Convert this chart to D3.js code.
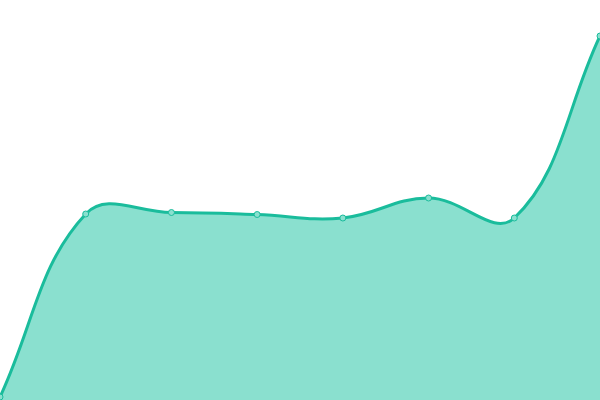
<!DOCTYPE html>
<html>
<head>
<meta charset="utf-8">
<script src="https://cdn.jsdelivr.net/npm/d3@7"></script>
<style>
  body { margin: 0; background: #fff; }
  svg { display: block; }
</style>
</head>
<body>
<script>
var width = 600;
var height = 400;

// one value per step
var steps = [0, 1, 2, 3, 4, 5, 6, 7];
var values = [3, 186, 187.5, 185.5, 182, 202, 182, 364];

var lineColor = '#1abc9c';
var fillColor = '#8ae0cf';
var tension = 0.4;

// tension spline, control points weighted by distance to neighbours
// and kept inside the drawing area
function SplineCurve(context) { this._context = context; }
SplineCurve.prototype = {
  areaStart: function() { this._line = 0; },
  areaEnd: function() { this._line = NaN; },
  lineStart: function() { this._x = []; this._y = []; },
  point: function(x, y) { this._x.push(+x); this._y.push(+y); },
  lineEnd: function() {
    var xs = this._x, ys = this._y, n = xs.length, c = this._context;
    if (n) {
      this._line ? c.lineTo(xs[0], ys[0]) : c.moveTo(xs[0], ys[0]);
      var inX = [], inY = [], outX = [], outY = [];
      for (var i = 0; i < n; i++) {
        var p = i > 0 ? i - 1 : i, q = i < n - 1 ? i + 1 : i;
        var d01 = Math.hypot(xs[i] - xs[p], ys[i] - ys[p]);
        var d12 = Math.hypot(xs[q] - xs[i], ys[q] - ys[i]);
        var s01 = d01 / (d01 + d12) || 0, s12 = d12 / (d01 + d12) || 0;
        var fa = tension * s01, fb = tension * s12;
        var cl = function(v, lo, hi) { return Math.max(lo, Math.min(hi, v)); };
        inX[i] = cl(xs[i] - fa * (xs[q] - xs[p]), 0, width);
        inY[i] = cl(ys[i] - fa * (ys[q] - ys[p]), 0, height);
        outX[i] = cl(xs[i] + fb * (xs[q] - xs[p]), 0, width);
        outY[i] = cl(ys[i] + fb * (ys[q] - ys[p]), 0, height);
      }
      for (var j = 1; j < n; j++) {
        c.bezierCurveTo(outX[j - 1], outY[j - 1], inX[j], inY[j], xs[j], ys[j]);
      }
    }
    if (this._line || (this._line !== 0 && n === 1)) c.closePath();
    this._line = 1 - this._line;
  }
};
var smooth = function(context) { return new SplineCurve(context); };

var x = d3.scaleLinear()
  .domain([0, steps.length - 1])
  .range([0, width]);

var y = d3.scaleLinear()
  .domain([0, 400])
  .range([height, 0]);

var svg = d3.select('body')
  .append('svg')
    .attr('width', width)
    .attr('height', height);

var area = d3.area()
  .x(function(d, i) { return x(steps[i]); })
  .y0(height)
  .y1(function(d) { return y(d); })
  .curve(smooth);

var line = d3.line()
  .x(function(d, i) { return x(steps[i]); })
  .y(function(d) { return y(d); })
  .curve(smooth);

svg.append('path')
  .datum(values)
  .attr('d', area)
  .attr('fill', fillColor);

svg.append('path')
  .datum(values)
  .attr('d', line)
  .attr('fill', 'none')
  .attr('stroke', lineColor)
  .attr('stroke-width', 3);

svg.selectAll('circle')
  .data(values)
  .enter()
  .append('circle')
    .attr('cx', function(d, i) { return x(steps[i]); })
    .attr('cy', function(d) { return y(d); })
    .attr('r', 3)
    .attr('fill', '#8ae0cf')
    .attr('stroke', lineColor)
    .attr('stroke-width', 1);
</script>
</body>
</html>
